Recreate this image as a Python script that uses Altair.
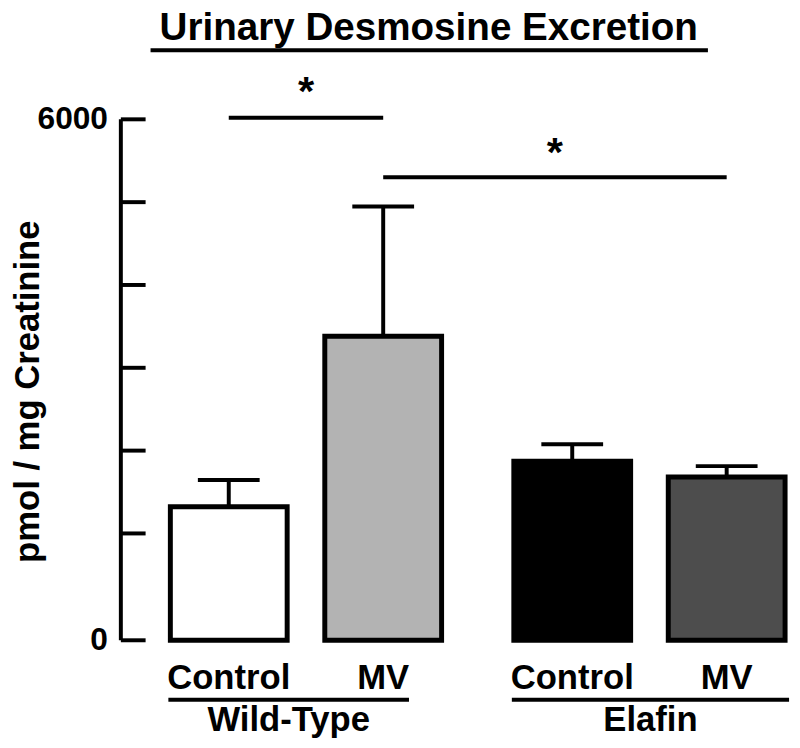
import altair as alt
import pandas as pd

# ---- data ----
groups = ["Wild-Type", "Wild-Type", "Elafin", "Elafin"]
treatments = ["Control", "MV", "Control", "MV"]
means = [1323, 3380, 1873, 1682]
err_tops = [1646, 4947, 2077, 1813]
fills = ["#ffffff", "#b3b3b3", "#000000", "#4d4d4d"]
y_ticks = [-290, 1000, 2000, 3000, 4000, 5000, 6000]
y_tick_labels = ["0", "6000"]
AXIS_BASE = -290
AXIS_TOP = 6000

FONT = "Liberation Sans"
GROUP_GAP = 0.224
group_index = {"Wild-Type": 0, "Elafin": 1}
X0 = 0.3205
AX = X0 - 3 / 156  # axis line position

pos = [i + 1 + group_index[g] * GROUP_GAP for i, g in enumerate(groups)]
keys = [f"{g} {t}" for g, t in zip(groups, treatments)]

df = pd.DataFrame({
    "key": keys, "group": groups, "treat": treatments,
    "pos": pos, "mean": means, "top": err_tops, "base": AXIS_BASE,
    "cl": [p - 0.2 for p in pos], "cr": [p + 0.2 for p in pos],
    "laby": -880,
})

xs = alt.Scale(domain=[X0, 4.647], nice=False, zero=False, padding=0)
ys = alt.Scale(domain=[AXIS_BASE, 7180], nice=False, zero=False, padding=0)

def X(f):
    return alt.X(f, scale=xs, axis=None)

def Y(f):
    return alt.Y(f, scale=ys, axis=None)

base = alt.Chart(df)

stems = base.mark_rule(color="black", strokeWidth=4).encode(
    x=X("pos:Q"), y=Y("mean:Q"), y2="top:Q")
caps = base.mark_rule(color="black", strokeWidth=4).encode(
    x=X("cl:Q"), x2="cr:Q", y=Y("top:Q"))
bars = base.mark_bar(size=118, stroke="black", strokeWidth=5).encode(
    x=X("pos:Q"), y=Y("mean:Q"), y2="base:Q",
    color=alt.Color("key:N", scale=alt.Scale(domain=keys, range=fills), legend=None),
)

# y axis line, inward ticks and labels
ticks_df = pd.DataFrame({"v": y_ticks, "x0": AX, "x1": AX + 25 / 156})
axis_line = alt.Chart(pd.DataFrame({"a": [AXIS_BASE], "b": [AXIS_TOP], "x": [AX]})).mark_rule(
    color="black", strokeWidth=4).encode(x=X("x:Q"), y=Y("a:Q"), y2="b:Q")
tick_marks = alt.Chart(ticks_df).mark_rule(color="black", strokeWidth=4).encode(
    x=X("x0:Q"), x2="x1:Q", y=Y("v:Q"))
tl_df = pd.DataFrame({"v": [AXIS_BASE, AXIS_TOP], "t": y_tick_labels, "x": X0 - 16 / 156})
tick_labels = alt.Chart(tl_df).mark_text(font=FONT, fontWeight="bold", fontSize=32, align="right",
                                         baseline="middle", color="black").encode(
    x=X("x:Q"), y=Y("v:Q"), text="t:N")

# significance annotations
sig_df = pd.DataFrame({"x1": [pos[0], pos[1]], "x2": [pos[1], pos[3]], "y": [6020, 5300],
                       "sy": [6330, 5590]})
sig_df["xm"] = (sig_df["x1"] + sig_df["x2"]) / 2
sig_df["star"] = "*"
sig_lines = alt.Chart(sig_df).mark_rule(color="black", strokeWidth=4).encode(
    x=X("x1:Q"), x2="x2:Q", y=Y("y:Q"))
sig_stars = alt.Chart(sig_df).mark_text(font=FONT, fontWeight="bold", fontSize=42,
                                        baseline="middle", color="black").encode(
    x=X("xm:Q"), y=Y("sy:Q"), text="star:N")

# title with underline
title_df = pd.DataFrame({"t": ["Urinary Desmosine Excretion"], "x": [2.295], "y": [6960],
                         "x1": [0.4936], "x2": [4.1026], "ly": [6835]})
title = alt.Chart(title_df).mark_text(font=FONT, fontWeight="bold", fontSize=39,
                                      baseline="alphabetic", color="black").encode(
    x=X("x:Q"), y=Y("y:Q"), text="t:N")
title_line = alt.Chart(title_df).mark_rule(color="black", strokeWidth=4).encode(
    x=X("x1:Q"), x2="x2:Q", y=Y("ly:Q"))

# category labels below
cat_labels = base.mark_text(font=FONT, fontWeight="bold", fontSize=35,
                            baseline="alphabetic", color="black").encode(
    x=X("pos:Q"), y=Y("laby:Q"), text="treat:N")

grp_df = pd.DataFrame({"g": ["Wild-Type", "Elafin"], "x1": [0.609, 2.833], "x2": [2.167, 4.628],
                       "ly": -1007, "ty": -1380})
grp_df["xm"] = (grp_df["x1"] + grp_df["x2"]) / 2
grp_lines = alt.Chart(grp_df).mark_rule(color="black", strokeWidth=4).encode(
    x=X("x1:Q"), x2="x2:Q", y=Y("ly:Q"))
grp_labels = alt.Chart(grp_df).mark_text(font=FONT, fontWeight="bold", fontSize=35,
                                         baseline="alphabetic", color="black").encode(
    x=X("xm:Q"), y=Y("ty:Q"), text="g:N")

ytitle_df = pd.DataFrame({"t": ["pmol / mg Creatinine"], "x": [X0 - 97 / 156], "y": [2711]})
ytitle = alt.Chart(ytitle_df).mark_text(
    font=FONT, fontWeight="bold", fontSize=35, angle=270, baseline="middle", color="black").encode(
    x=X("x:Q"), y=Y("y:Q"), text="t:N")

chart = alt.layer(
    stems, caps, bars, axis_line, tick_marks, tick_labels, sig_lines, sig_stars,
    title, title_line, cat_labels, grp_lines, grp_labels, ytitle,
).properties(
    width=675, height=625, autosize="none",
    padding={"left": 117, "top": 10, "right": 0, "bottom": 97},
).configure_view(strokeWidth=0)

chart.save("out.html", embed_options={"renderer": "svg", "actions": False})
